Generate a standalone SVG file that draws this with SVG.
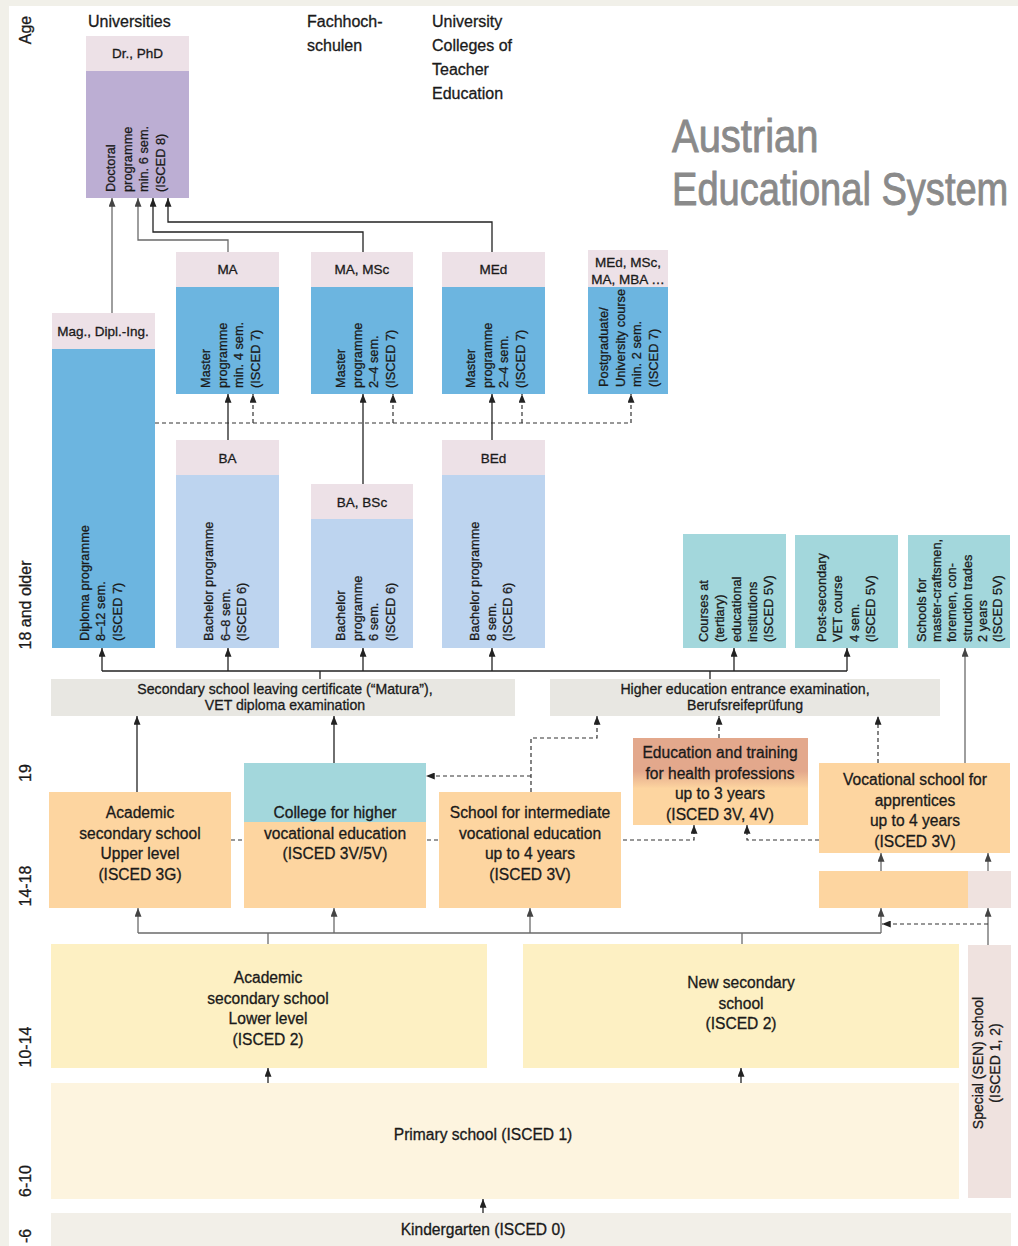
<svg xmlns="http://www.w3.org/2000/svg" width="1018" height="1246" viewBox="0 0 1018 1246">
<defs>
<style>
text{font-family:"Liberation Sans",Arial,sans-serif;fill:#1a1a1a;stroke:#1a1a1a;stroke-width:0.3px}
.t{font-size:15.6px;text-anchor:middle}
.h{font-size:13.5px;text-anchor:middle}
.r{font-size:12.8px}
.c{font-size:14.1px;text-anchor:middle}
.age{font-size:16px;text-anchor:middle}
.hd{font-size:16px}
.ttl{font-size:47px;fill:#8a8a8a;stroke:#8a8a8a;stroke-width:0.9px}
.pink{fill:#ede1e7}
.blue{fill:#6cb5e0}
.lblue{fill:#bdd4ef}
.purple{fill:#bcaed3}
.teal{fill:#a3d7dc}
.orange{fill:#fdd5a0}
.grey{fill:#e8e7e2}
.yellow{fill:#fdf0c3}
.sen{fill:#efe2df}
.line{fill:none;stroke:#222;stroke-width:1.3}
.gl{fill:none;stroke:#6a6a6a;stroke-width:1.3}
.dash{fill:none;stroke:#333;stroke-width:1.2;stroke-dasharray:4 3}
</style>
<marker id="a" viewBox="0 0 10 8" refX="10" refY="4" markerWidth="9" markerHeight="7" orient="auto" markerUnits="userSpaceOnUse"><path d="M0,0L10,4L0,8z" fill="#222"/></marker>
<marker id="ag" viewBox="0 0 10 8" refX="10" refY="4" markerWidth="9" markerHeight="7" orient="auto" markerUnits="userSpaceOnUse"><path d="M0,0L10,4L0,8z" fill="#444"/></marker>
<linearGradient id="hg" x1="0" y1="0" x2="0" y2="1"><stop offset="0.38" stop-color="#e3a88c"/><stop offset="0.58" stop-color="#fdd5a0"/></linearGradient>
</defs>

<rect x="0" y="0" width="1018" height="1246" fill="#f1f0e9"/>
<rect x="9" y="6" width="1009" height="1240" fill="#ffffff"/>

<g id="age-axis">
<text class="age" transform="rotate(-90)" x="-30" y="31">Age</text>
<text class="age" transform="rotate(-90)" x="-605" y="31">18 and older</text>
<text class="age" transform="rotate(-90)" x="-773" y="31">19</text>
<text class="age" transform="rotate(-90)" x="-886" y="31">14-18</text>
<text class="age" transform="rotate(-90)" x="-1047" y="31">10-14</text>
<text class="age" transform="rotate(-90)" x="-1181" y="31">6-10</text>
<text class="age" transform="rotate(-90)" x="-1236" y="31">-6</text>
</g>

<g id="headers">
<text class="hd" x="88" y="27">Universities</text>
<text class="hd" x="307" y="27">Fachhoch-</text>
<text class="hd" x="307" y="51">schulen</text>
<text class="hd" x="432" y="27">University</text>
<text class="hd" x="432" y="51">Colleges of</text>
<text class="hd" x="432" y="75">Teacher</text>
<text class="hd" x="432" y="99">Education</text>
</g>

<g id="title">
<text class="ttl" transform="translate(672,152) scale(0.85,1)">Austrian</text>
<text class="ttl" transform="translate(672,205) scale(0.81,1)">Educational System</text>
</g>

<g id="connectors">
<path class="line" d="M363,252V232H153V198" marker-end="url(#a)"/>
<path class="line" d="M492,252V222H168V198" marker-end="url(#a)"/>
<path class="gl" d="M228,252V240H138V198" marker-end="url(#ag)"/>
<path class="gl" d="M112,313V198" marker-end="url(#ag)"/>
<path class="line" d="M228,440V394" marker-end="url(#a)"/>
<path class="line" d="M363,484V394" marker-end="url(#a)"/>
<path class="line" d="M492,440V394" marker-end="url(#a)"/>
<path class="dash" d="M155,423H631V394" marker-end="url(#a)"/>
<path class="dash" d="M253,423V394" marker-end="url(#a)"/>
<path class="dash" d="M393,423V394" marker-end="url(#a)"/>
<path class="dash" d="M522,423V394" marker-end="url(#a)"/>
<path class="line" d="M102,671H847"/>
<path class="line" d="M320,679V671"/>
<path class="line" d="M710,679V671"/>
<path class="line" d="M102,671V648" marker-end="url(#a)"/>
<path class="line" d="M228,671V648" marker-end="url(#a)"/>
<path class="line" d="M363,671V648" marker-end="url(#a)"/>
<path class="line" d="M492,671V648" marker-end="url(#a)"/>
<path class="line" d="M734,671V648" marker-end="url(#a)"/>
<path class="line" d="M847,671V648" marker-end="url(#a)"/>
<path class="gl" d="M965,763V648" marker-end="url(#ag)"/>
<path class="line" d="M137,792V716" marker-end="url(#a)"/>
<path class="line" d="M334,763V716" marker-end="url(#a)"/>
<path class="dash" d="M531,792V738H597V716" marker-end="url(#a)"/>
<path class="dash" d="M531,776H426" marker-end="url(#a)"/>
<path class="dash" d="M719,738V716" marker-end="url(#a)"/>
<path class="dash" d="M878,763V716" marker-end="url(#a)"/>
<path class="dash" d="M231,840H694V825" marker-end="url(#a)"/>
<path class="dash" d="M819,840H747V825" marker-end="url(#a)"/>
<path class="gl" d="M138,933H881"/>
<path class="gl" d="M268,945V933"/>
<path class="gl" d="M742,945V933"/>
<path class="gl" d="M138,933V908" marker-end="url(#ag)"/>
<path class="gl" d="M334,933V908" marker-end="url(#ag)"/>
<path class="gl" d="M530,933V908" marker-end="url(#ag)"/>
<path class="gl" d="M881,933V908" marker-end="url(#ag)"/>
<path class="gl" d="M881,871V853" marker-end="url(#ag)"/>
<path class="gl" d="M988,871V853" marker-end="url(#ag)"/>
<path class="gl" d="M988,945V908" marker-end="url(#ag)"/>
<path class="dash" d="M988,924H882" marker-end="url(#a)"/>
<path class="line" d="M268,1083V1068" marker-end="url(#a)"/>
<path class="line" d="M741,1083V1068" marker-end="url(#a)"/>
<path class="line" d="M483,1213V1199" marker-end="url(#a)"/>
</g>

<g id="doctoral">
<rect class="pink" x="86" y="36" width="103" height="35"/>
<rect class="purple" x="86" y="71" width="103" height="127"/>
<text class="h" x="137.5" y="58">Dr., PhD</text>
<text class="r" transform="rotate(-90)"><tspan x="-192" y="115">Doctoral</tspan><tspan x="-192" y="131.5">programme</tspan><tspan x="-192" y="148">min. 6 sem.</tspan><tspan x="-192" y="164.5">(ISCED 8)</tspan></text>
</g>

<g id="diploma">
<rect class="pink" x="52" y="313" width="103" height="36"/>
<rect class="blue" x="52" y="349" width="103" height="299"/>
<text class="h" x="103" y="336">Mag., Dipl.-Ing.</text>
<text class="r" transform="rotate(-90)"><tspan x="-641" y="88.5">Diploma programme</tspan><tspan x="-641" y="105">8–12 sem.</tspan><tspan x="-641" y="121.5">(ISCED 7)</tspan></text>
</g>

<g id="master-uni">
<rect class="pink" x="176" y="252" width="103" height="35"/>
<rect class="blue" x="176" y="287" width="103" height="107"/>
<text class="h" x="227.5" y="274">MA</text>
<text class="r" transform="rotate(-90)"><tspan x="-388" y="210">Master</tspan><tspan x="-388" y="226.5">programme</tspan><tspan x="-388" y="243">min. 4 sem.</tspan><tspan x="-388" y="259.5">(ISCED 7)</tspan></text>
</g>

<g id="master-fh">
<rect class="pink" x="311" y="252" width="102" height="35"/>
<rect class="blue" x="311" y="287" width="102" height="107"/>
<text class="h" x="362" y="274">MA, MSc</text>
<text class="r" transform="rotate(-90)"><tspan x="-388" y="345">Master</tspan><tspan x="-388" y="361.5">programme</tspan><tspan x="-388" y="378">2–4 sem.</tspan><tspan x="-388" y="394.5">(ISCED 7)</tspan></text>
</g>

<g id="master-ph">
<rect class="pink" x="442" y="252" width="103" height="35"/>
<rect class="blue" x="442" y="287" width="103" height="107"/>
<text class="h" x="493.5" y="274">MEd</text>
<text class="r" transform="rotate(-90)"><tspan x="-388" y="475">Master</tspan><tspan x="-388" y="491.5">programme</tspan><tspan x="-388" y="508">2–4 sem.</tspan><tspan x="-388" y="524.5">(ISCED 7)</tspan></text>
</g>

<g id="postgraduate">
<rect class="pink" x="588" y="250" width="80" height="37"/>
<rect class="blue" x="588" y="287" width="80" height="107"/>
<text class="h" x="628" y="267">MEd, MSc,</text>
<text class="h" x="628" y="283.5">MA, MBA …</text>
<text class="r" transform="rotate(-90)"><tspan x="-387" y="608">Postgraduate/</tspan><tspan x="-387" y="624.5">University course</tspan><tspan x="-387" y="641">min. 2 sem.</tspan><tspan x="-387" y="657.5">(ISCED 7)</tspan></text>
</g>

<g id="bachelor-uni">
<rect class="pink" x="176" y="440" width="103" height="35"/>
<rect class="lblue" x="176" y="475" width="103" height="173"/>
<text class="h" x="227.5" y="463">BA</text>
<text class="r" transform="rotate(-90)"><tspan x="-641" y="213">Bachelor programme</tspan><tspan x="-641" y="229.5">6–8 sem.</tspan><tspan x="-641" y="246">(ISCED 6)</tspan></text>
</g>

<g id="bachelor-fh">
<rect class="pink" x="311" y="484" width="102" height="35"/>
<rect class="lblue" x="311" y="519" width="102" height="129"/>
<text class="h" x="362" y="507">BA, BSc</text>
<text class="r" transform="rotate(-90)"><tspan x="-641" y="345">Bachelor</tspan><tspan x="-641" y="361.5">programme</tspan><tspan x="-641" y="378">6 sem.</tspan><tspan x="-641" y="394.5">(ISCED 6)</tspan></text>
</g>

<g id="bachelor-ph">
<rect class="pink" x="442" y="440" width="103" height="35"/>
<rect class="lblue" x="442" y="475" width="103" height="173"/>
<text class="h" x="493.5" y="463">BEd</text>
<text class="r" transform="rotate(-90)"><tspan x="-641" y="479">Bachelor programme</tspan><tspan x="-641" y="495.5">8 sem.</tspan><tspan x="-641" y="512">(ISCED 6)</tspan></text>
</g>

<g id="courses-tertiary">
<rect class="teal" x="683" y="534" width="103" height="114"/>
<text class="r" transform="rotate(-90)"><tspan x="-642" y="708">Courses at</tspan><tspan x="-642" y="724.3">(tertiary)</tspan><tspan x="-642" y="740.6">educational</tspan><tspan x="-642" y="756.9">institutions</tspan><tspan x="-642" y="773.2">(ISCED 5V)</tspan></text>
</g>

<g id="post-secondary">
<rect class="teal" x="795" y="535" width="103" height="113"/>
<text class="r" transform="rotate(-90)"><tspan x="-642" y="826">Post-secondary</tspan><tspan x="-642" y="842.3">VET course</tspan><tspan x="-642" y="858.6">4 sem.</tspan><tspan x="-642" y="874.9">(ISCED 5V)</tspan></text>
</g>

<g id="master-craftsmen">
<rect class="teal" x="908" y="535" width="102" height="113"/>
<text class="r" transform="rotate(-90)"><tspan x="-642" y="926">Schools for</tspan><tspan x="-642" y="941.2">master-craftsmen,</tspan><tspan x="-642" y="956.4">foremen, con-</tspan><tspan x="-642" y="971.6">struction trades</tspan><tspan x="-642" y="986.8">2 years</tspan><tspan x="-642" y="1002">(ISCED 5V)</tspan></text>
</g>

<g id="matura">
<rect class="grey" x="51" y="679" width="464" height="37"/>
<text class="c" x="285" y="694">Secondary school leaving certificate (“Matura”),</text>
<text class="c" x="285" y="709.5">VET diploma examination</text>
</g>

<g id="higher-ed-exam">
<rect class="grey" x="550" y="679" width="390" height="37"/>
<text class="c" x="745" y="693.5">Higher education entrance examination,</text>
<text class="c" x="745" y="709.5">Berufsreifeprüfung</text>
</g>

<g id="academic-upper">
<rect class="orange" x="49" y="792" width="182" height="116"/>
<text class="t" x="140" y="818">Academic</text>
<text class="t" x="140" y="838.5">secondary school</text>
<text class="t" x="140" y="859">Upper level</text>
<text class="t" x="140" y="879.5">(ISCED 3G)</text>
</g>

<g id="college-higher-vocational">
<rect class="teal" x="244" y="763" width="182" height="59"/>
<rect class="orange" x="244" y="822" width="182" height="86"/>
<text class="t" x="335" y="818">College for higher</text>
<text class="t" x="335" y="838.5">vocational education</text>
<text class="t" x="335" y="859">(ISCED 3V/5V)</text>
</g>

<g id="school-intermediate">
<rect class="orange" x="439" y="792" width="182" height="116"/>
<text class="t" x="530" y="818">School for intermediate</text>
<text class="t" x="530" y="838.5">vocational education</text>
<text class="t" x="530" y="859">up to 4 years</text>
<text class="t" x="530" y="879.5">(ISCED 3V)</text>
</g>

<g id="health-professions">
<rect x="633" y="738" width="175" height="87" fill="url(#hg)"/>
<text class="t" x="720" y="758">Education and training</text>
<text class="t" x="720" y="778.5">for health professions</text>
<text class="t" x="720" y="799">up to 3 years</text>
<text class="t" x="720" y="819.5">(ISCED 3V, 4V)</text>
</g>

<g id="vocational-apprentices">
<rect class="orange" x="819" y="763" width="191" height="90"/>
<text class="t" x="915" y="785">Vocational school for</text>
<text class="t" x="915" y="805.5">apprentices</text>
<text class="t" x="915" y="826">up to 4 years</text>
<text class="t" x="915" y="846.5">(ISCED 3V)</text>
</g>

<g id="pre-vocational">
<rect class="orange" x="819" y="871" width="149" height="37"/>
<rect class="sen" x="968" y="871" width="43" height="37"/>
</g>

<g id="academic-lower">
<rect class="yellow" x="51" y="944" width="436" height="124"/>
<text class="t" x="268" y="983">Academic</text>
<text class="t" x="268" y="1003.5">secondary school</text>
<text class="t" x="268" y="1024">Lower level</text>
<text class="t" x="268" y="1044.5">(ISCED 2)</text>
</g>

<g id="new-secondary">
<rect class="yellow" x="523" y="944" width="436" height="124"/>
<text class="t" x="741" y="988">New secondary</text>
<text class="t" x="741" y="1008.5">school</text>
<text class="t" x="741" y="1029">(ISCED 2)</text>
</g>

<g id="special-school">
<rect class="sen" x="968" y="945" width="43" height="253"/>
<text class="r" transform="rotate(-90)" text-anchor="middle" style="font-size:14px"><tspan x="-1063" y="983">Special (SEN) school</tspan><tspan x="-1063" y="999.5">(ISCED 1, 2)</tspan></text>
</g>

<g id="primary">
<rect x="51" y="1083" width="908" height="116" fill="#fdf4df"/>
<text class="t" x="483" y="1140">Primary school (ISCED 1)</text>
</g>

<g id="kindergarten">
<rect x="51" y="1213" width="960" height="33" fill="#f2efe8"/>
<text class="t" x="483" y="1235">Kindergarten (ISCED 0)</text>
</g>
</svg>
